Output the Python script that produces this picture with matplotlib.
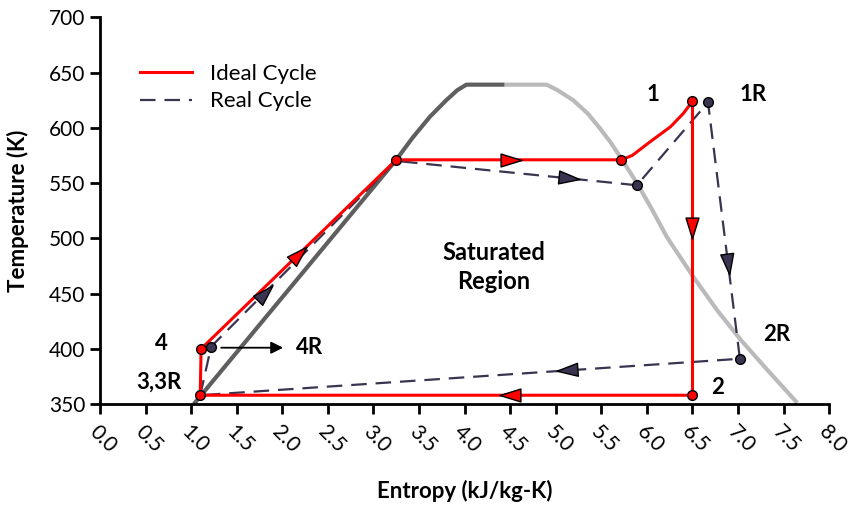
import matplotlib.pyplot as plt
import numpy as np
from matplotlib.markers import MarkerStyle
from matplotlib.path import Path
from matplotlib.transforms import Affine2D

plt.rcParams['font.family'] = ['Lato', 'DejaVu Sans']

# saturation dome (entropy, temperature)
dome_left_s = [1.03, 3.25, 3.43, 3.62, 3.80, 3.92, 4.02, 4.44]
dome_left_T = [350, 571, 591, 610, 625, 634, 639, 639]
dome_right_s = [4.44, 4.90, 5.02, 5.19, 5.35, 5.48, 5.60, 5.72, 5.89,
                6.05, 6.22, 6.51, 6.77, 7.03, 7.32, 7.65]
dome_right_T = [639, 639, 634, 625, 613, 600, 587, 572, 550,
                527, 501, 465, 435, 408, 381, 351]

# ideal cycle: 3 -> 4 -> sat. liquid -> sat. vapour -> 1 -> 2 -> 3
ideal_s = [1.10, 1.11, 3.25, 5.72, 5.84, 6.03, 6.26, 6.40, 6.50, 6.50, 1.10]
ideal_T = [358, 400, 571, 571, 575, 587, 601, 613, 624, 358, 358]
ideal_pts_s = [1.10, 1.11, 3.25, 5.72, 6.50, 6.50]
ideal_pts_T = [358, 400, 571, 571, 624, 358]

# real cycle: 3R -> 4R -> ... -> 1R -> 2R -> 3R
real_s = [1.10, 1.22, 3.25, 5.89, 6.67, 7.02, 1.10]
real_T = [358, 402, 570, 548, 623, 391, 358]
real_pts_s = [1.22, 5.89, 6.67, 7.02]
real_pts_T = [402, 548, 623, 391]

# arrowheads: (start s, start T, end s, end T, position along segment)
ideal_arrows = [(1.11, 400, 3.25, 571, 0.50), (3.25, 571, 5.72, 571, 0.51),
                (6.50, 624, 6.50, 358, 0.43), (6.50, 358, 1.10, 358, 0.37)]
real_arrows = [(1.22, 402, 3.25, 570, 0.29), (3.25, 570, 5.89, 548, 0.72),
               (6.67, 623, 7.02, 391, 0.63), (7.02, 391, 1.10, 358, 0.32)]

labels = [('1', 6.07, 630), ('1R', 7.16, 630), ('2', 6.78, 365), ('2R', 7.42, 413),
          ('4', 0.67, 405), ('3,3R', 0.65, 370), ('4R', 2.30, 401)]

red = '#ff0000'
dark = '#3b3450'

fig = plt.figure(figsize=(8.54, 5.07), dpi=100)
ax = fig.add_axes([0.117, 0.203, 0.854, 0.763])
ax.set_xlim(0, 8)
ax.set_ylim(350, 700)

ax.plot(dome_left_s, dome_left_T, color='#5f5f5f', lw=3, zorder=1, solid_capstyle='butt')
ax.plot(dome_right_s, dome_right_T, color='#bababa', lw=3, zorder=1, solid_capstyle='butt')

ax.plot(real_s, real_T, color=dark, lw=1.6, ls=(0, (7, 4)), zorder=2, label='Real Cycle')
ax.plot(ideal_s, ideal_T, color=red, lw=2.2, zorder=3, label='Ideal Cycle')
ax.plot(real_pts_s, real_pts_T, 'o', color=dark, mec='black', mew=1, ms=7, zorder=4)
ax.plot(ideal_pts_s, ideal_pts_T, 'o', color=red, mec='black', mew=1, ms=7, zorder=5)

head = Path([(1, 0), (-1, 0.62), (-1, -0.62), (1, 0)],
            [Path.MOVETO, Path.LINETO, Path.LINETO, Path.CLOSEPOLY])


def draw_arrows(arrows, fc, z):
    for s0, T0, s1, T1, t in arrows:
        p0 = ax.transData.transform((s0, T0))
        p1 = ax.transData.transform((s1, T1))
        ang = np.degrees(np.arctan2(p1[1] - p0[1], p1[0] - p0[0]))
        m = MarkerStyle(head, transform=Affine2D().rotate_deg(ang))
        ax.plot(s0 + t * (s1 - s0), T0 + t * (T1 - T0), marker=m, ms=15,
                color=fc, mec='black', mew=1, ls='none', zorder=z)


draw_arrows(real_arrows, dark, 6)
draw_arrows(ideal_arrows, red, 7)

ax.annotate('', xy=(2.04, 401), xytext=(1.30, 401),
            arrowprops=dict(arrowstyle='-|>', color='black', lw=1.3, mutation_scale=18))

for txt, s, T in labels:
    ax.text(s, T, txt, fontsize=16, fontweight='bold', ha='center', va='center')
ax.text(4.32, 474, 'Saturated\nRegion', fontsize=17, fontweight='bold',
        ha='center', va='center', linespacing=1.35)

ax.spines['top'].set_visible(False)
ax.spines['right'].set_visible(False)
for sp in ['left', 'bottom']:
    ax.spines[sp].set_linewidth(2)
ax.set_xticks(np.arange(0, 8.01, 0.5))
ax.set_xticklabels(['%.1f' % v for v in np.arange(0, 8.01, 0.5)], rotation=-45,
                   ha='left', va='top', rotation_mode='anchor')
ax.set_yticks(np.arange(350, 701, 50))
ax.tick_params(width=2, length=7, labelsize=15, color='black')
ax.tick_params(axis='x', pad=6)
ax.set_xlabel('Entropy (kJ/kg-K)', fontsize=16, fontweight='bold')
ax.set_ylabel('Temperature (K)', fontsize=16, fontweight='bold')
ax.xaxis.set_label_coords(0.5, -0.195)
ax.yaxis.set_label_coords(-0.097, 0.5)

h, l = ax.get_legend_handles_labels()
ax.legend(h[::-1], l[::-1], loc='upper left', bbox_to_anchor=(0.055, 0.88), frameon=False,
          fontsize=16, handlelength=2.35, handletextpad=0.8, labelspacing=0.35,
          borderpad=0, borderaxespad=0)

fig.savefig('out.png', dpi=100)
